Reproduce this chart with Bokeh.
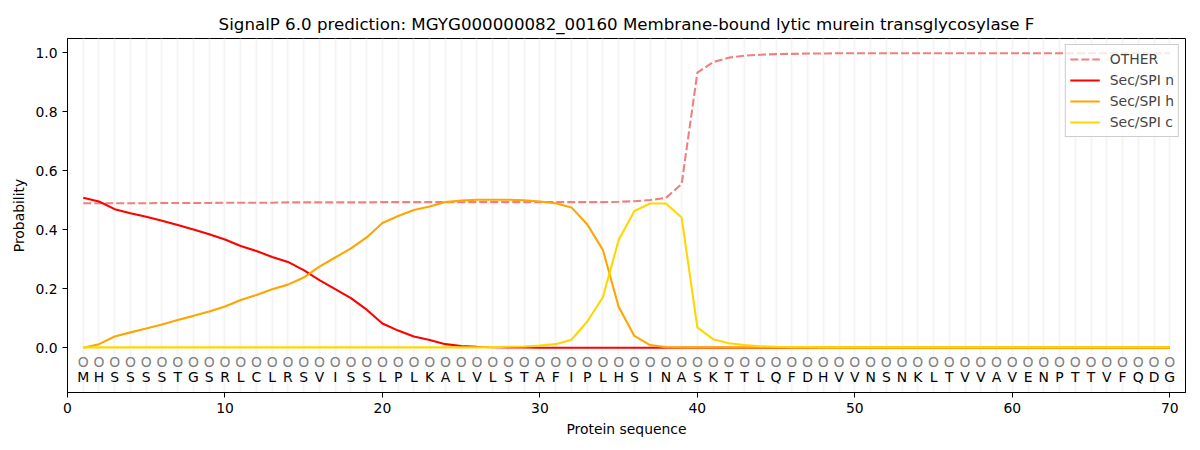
from bokeh.plotting import figure
from bokeh.models import Range1d, FixedTicker, Legend, LegendItem, NumeralTickFormatter
from bokeh.core.properties import value
from bokeh.embed import file_html
from bokeh.resources import INLINE

residues = list("MHSSSSTGSRLCLRSVISSLPLKALVLSTAFIPLHSINASKTTLQFDHVVNSNKLTVVAVENPTTVFQDG")
positions = list(range(1, 71))

other = [0.490, 0.490, 0.490, 0.490, 0.490, 0.491, 0.491, 0.491, 0.491, 0.492,
         0.492, 0.492, 0.492, 0.493, 0.493, 0.493, 0.493, 0.493, 0.493, 0.494,
         0.494, 0.494, 0.494, 0.494, 0.494, 0.494, 0.494, 0.494, 0.494, 0.494,
         0.494, 0.494, 0.494, 0.494, 0.495, 0.497, 0.501, 0.508, 0.555, 0.933,
         0.969, 0.984, 0.991, 0.994, 0.996, 0.997, 0.998, 0.998, 0.999, 0.999,
         0.999, 0.999, 0.999, 0.999, 0.999, 0.999, 0.999, 0.999, 0.999, 0.999,
         0.999, 0.999, 0.999, 0.999, 0.999, 0.999, 0.999, 0.999, 0.999, 0.999]

sp_n = [0.509, 0.496, 0.470, 0.456, 0.444, 0.431, 0.416, 0.401, 0.385, 0.367,
        0.345, 0.328, 0.308, 0.291, 0.263, 0.229, 0.199, 0.168, 0.129, 0.082,
        0.058, 0.038, 0.026, 0.012, 0.006, 0.003, 0.002, 0.001, 0.001, 0.000,
        0.000, 0.000, 0.000, 0.000, 0.000, 0.000, 0.000, 0.000, 0.000, 0.000,
        0.000, 0.000, 0.000, 0.000, 0.000, 0.000, 0.000, 0.000, 0.000, 0.000,
        0.000, 0.000, 0.000, 0.000, 0.000, 0.000, 0.000, 0.000, 0.000, 0.000,
        0.000, 0.000, 0.000, 0.000, 0.000, 0.000, 0.000, 0.000, 0.000, 0.000]

sp_h = [0.000, 0.012, 0.038, 0.052, 0.065, 0.079, 0.094, 0.108, 0.123, 0.140,
        0.162, 0.179, 0.198, 0.214, 0.238, 0.275, 0.306, 0.337, 0.374, 0.423,
        0.447, 0.467, 0.479, 0.494, 0.499, 0.502, 0.502, 0.502, 0.500, 0.496,
        0.490, 0.476, 0.419, 0.332, 0.139, 0.040, 0.009, 0.002, 0.001, 0.001,
        0.001, 0.001, 0.001, 0.001, 0.001, 0.001, 0.001, 0.001, 0.001, 0.001,
        0.001, 0.001, 0.001, 0.001, 0.001, 0.001, 0.001, 0.001, 0.001, 0.001,
        0.001, 0.001, 0.001, 0.001, 0.001, 0.001, 0.001, 0.001, 0.001, 0.001]

sp_c = [0.001, 0.001, 0.001, 0.001, 0.001, 0.001, 0.001, 0.001, 0.001, 0.001,
        0.001, 0.001, 0.001, 0.001, 0.001, 0.001, 0.001, 0.001, 0.001, 0.001,
        0.001, 0.001, 0.001, 0.001, 0.001, 0.001, 0.002, 0.003, 0.004, 0.007,
        0.012, 0.027, 0.088, 0.171, 0.365, 0.464, 0.489, 0.489, 0.442, 0.069,
        0.029, 0.015, 0.009, 0.005, 0.003, 0.002, 0.002, 0.001, 0.001, 0.001,
        0.001, 0.001, 0.001, 0.001, 0.001, 0.001, 0.001, 0.001, 0.001, 0.001,
        0.001, 0.001, 0.001, 0.001, 0.001, 0.001, 0.001, 0.001, 0.001, 0.001]

marker_text = ["O"] * len(positions)
circle_y = [-0.047] * len(positions)
letter_y = [-0.098] * len(positions)

FONT = "DejaVu Sans"
FS = "13.9px"

p = figure(width=1200, height=450, output_backend="svg", toolbar_location=None,
           x_range=Range1d(0, 71), y_range=Range1d(-0.152, 1.049),
           title="SignalP 6.0 prediction: MGYG000000082_00160 Membrane-bound lytic murein transglycosylase F",
           min_border_left=67, min_border_right=15, min_border_top=38, min_border_bottom=58)

p.title.align = "center"
p.title.text_font = FONT
p.title.text_font_size = "16.67px"
p.title.text_font_style = "normal"
p.title.text_color = "black"

p.outline_line_color = "black"
p.outline_line_width = 1
p.outline_line_alpha = 1

p.ygrid.grid_line_color = None
p.xgrid.ticker = FixedTicker(ticks=positions)
p.xgrid.grid_line_color = "#f4f4f4"
p.xgrid.grid_line_width = 2

p.xaxis.ticker = FixedTicker(ticks=[0, 10, 20, 30, 40, 50, 60, 70])
p.yaxis.ticker = FixedTicker(ticks=[0.0, 0.2, 0.4, 0.6, 0.8, 1.0])
p.yaxis.formatter = NumeralTickFormatter(format="0.0")
for ax in (p.xaxis, p.yaxis):
    ax.major_label_text_font = FONT
    ax.major_label_text_font_size = FS
    ax.major_label_text_color = "black"
    ax.axis_label_text_font = FONT
    ax.axis_label_text_font_size = FS
    ax.axis_label_text_font_style = "normal"
    ax.axis_label_text_color = "black"
    ax.minor_tick_line_color = None
    ax.major_tick_out = 5
    ax.major_tick_in = 0
    ax.axis_line_color = "black"
    ax.major_tick_line_color = "black"
p.xaxis.axis_label = "Protein sequence"
p.yaxis.axis_label = "Probability"

r_other = p.line(positions, other, line_color="#F08080", line_width=2.1, line_dash="8 3")
r_n = p.line(positions, sp_n, line_color="#FF0000", line_width=2.1)
r_h = p.line(positions, sp_h, line_color="#FFA500", line_width=2.1)
r_c = p.line(positions, sp_c, line_color="#FFD700", line_width=2.1)

p.text(x=positions, y=circle_y, text=marker_text, text_align="center", text_baseline="middle",
       text_font=value(FONT), text_font_size=FS, text_color="gray")
p.text(x=positions, y=letter_y, text=residues, text_align="center", text_baseline="middle",
       text_font=value(FONT), text_font_size=FS, text_color="black")

legend = Legend(items=[
    LegendItem(label="OTHER", renderers=[r_other]),
    LegendItem(label="Sec/SPI n", renderers=[r_n]),
    LegendItem(label="Sec/SPI h", renderers=[r_h]),
    LegendItem(label="Sec/SPI c", renderers=[r_c]),
], location="top_right")
legend.label_text_font = FONT
legend.label_text_font_size = FS
legend.margin = 6
legend.padding = 4
legend.spacing = 1
legend.glyph_width = 30
legend.label_standoff = 10
legend.border_line_color = "#cccccc"
legend.border_line_alpha = 1
legend.background_fill_alpha = 0.8
p.add_layout(legend)

open("out.html", "w").write(file_html(p, INLINE))
